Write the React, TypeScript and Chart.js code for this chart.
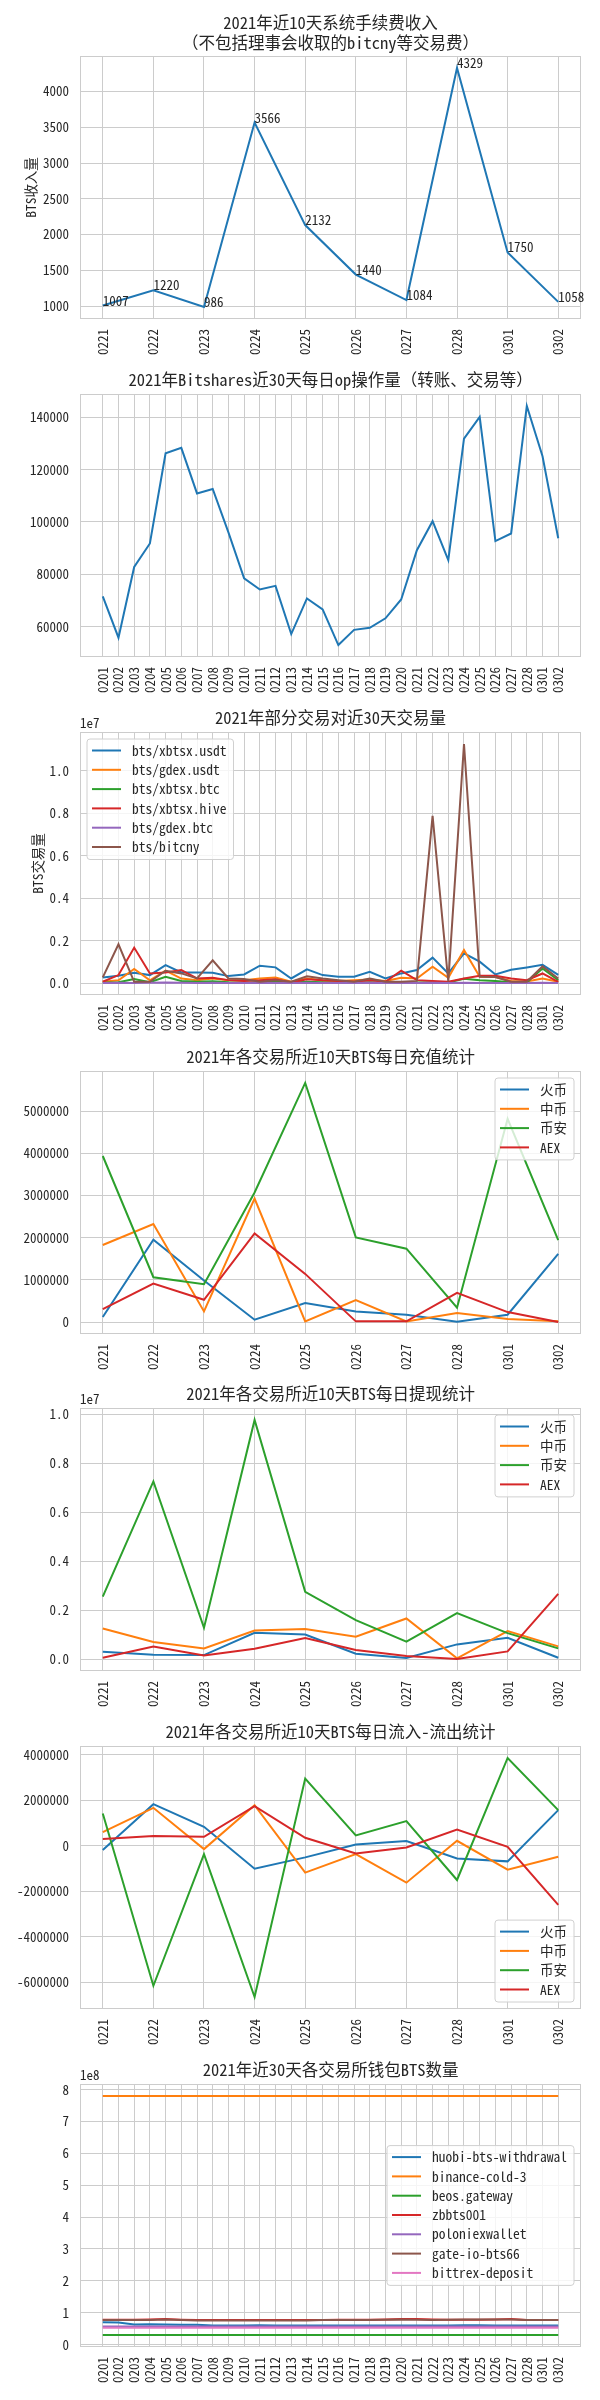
import React, { useEffect, useRef } from "react";
import { Chart, registerables } from "chart.js";

Chart.register(...registerables);

const FONT_FAMILY = "'Noto Sans Mono CJK SC', 'Noto Sans CJK SC', 'DejaVu Sans', sans-serif";
const TEXT_COLOR = "#262626";
const GRID_COLOR = "#cccccc";

const BLUE = "#1f77b4";
const ORANGE = "#ff7f0e";
const GREEN = "#2ca02c";
const RED = "#d62728";
const PURPLE = "#9467bd";
const BROWN = "#8c564b";
const PINK = "#e377c2";

// ---------- categories ----------
const days10 = ["0221", "0222", "0223", "0224", "0225", "0226", "0227", "0228", "0301", "0302"];
const days30 = [
  "0201", "0202", "0203", "0204", "0205", "0206", "0207", "0208", "0209", "0210",
  "0211", "0212", "0213", "0214", "0215", "0216", "0217", "0218", "0219", "0220",
  "0221", "0222", "0223", "0224", "0225", "0226", "0227", "0228", "0301", "0302",
];

// ---------- panel 1: fee income ----------
const feeIncome = [1007, 1220, 986, 3566, 2132, 1440, 1084, 4329, 1750, 1058];
const feeTicks = [1000, 1500, 2000, 2500, 3000, 3500, 4000];
const feeTickLabels = ["1000", "1500", "2000", "2500", "3000", "3500", "4000"];

// ---------- panel 2: daily ops ----------
const dailyOps = [
  71600, 55800, 82800, 91800, 126200, 128300, 110900, 112600, 96000, 78500,
  74200, 75600, 57200, 70800, 66600, 53000, 58800, 59600, 63200, 70400,
  89200, 100300, 85400, 131800, 140100, 92700, 95600, 144300, 125100, 93800,
];
const opsTicks = [60000, 80000, 100000, 120000, 140000];
const opsTickLabels = ["60000", "80000", "100000", "120000", "140000"];

// ---------- panel 3: pair volumes ----------
const volXbtsxUsdt = [
  283000, 362000, 504000, 394000, 866000, 520000, 520000, 504000, 346000, 425000,
  835000, 756000, 236000, 661000, 394000, 315000, 315000, 551000, 236000, 472000,
  630000, 1213000, 472000, 1417000, 1024000, 425000, 640000, 750000, 875000, 400000,
];
const volGdexUsdt = [
  80000, 150000, 680000, 150000, 600000, 230000, 150000, 230000, 150000, 150000,
  230000, 280000, 80000, 230000, 150000, 120000, 150000, 190000, 120000, 268000,
  236000, 787000, 268000, 1575000, 315000, 300000, 120000, 90000, 230000, 80000,
];
const volXbtsxBtc = [
  50000, 60000, 205000, 60000, 315000, 120000, 80000, 110000, 60000, 50000,
  50000, 80000, 40000, 80000, 60000, 50000, 40000, 60000, 40000, 60000,
  50000, 60000, 50000, 220000, 150000, 120000, 60000, 50000, 700000, 150000,
];
const volXbtsxHive = [
  79000, 394000, 1685000, 472000, 520000, 630000, 236000, 268000, 157000, 120000,
  150000, 200000, 50000, 200000, 150000, 120000, 80000, 150000, 80000, 598000,
  157000, 120000, 80000, 236000, 362000, 362000, 230000, 150000, 470000, 80000,
];
const volGdexBtc = [
  20000, 30000, 20000, 30000, 40000, 30000, 20000, 30000, 20000, 20000,
  30000, 20000, 20000, 30000, 20000, 20000, 20000, 30000, 20000, 20000,
  20000, 30000, 20000, 30000, 20000, 20000, 20000, 20000, 30000, 20000,
];
const volBitcny = [
  283000, 1842000, 79000, 80000, 600000, 472000, 236000, 1087000, 236000, 205000,
  80000, 150000, 80000, 340000, 230000, 150000, 80000, 230000, 80000, 80000,
  120000, 7870000, 80000, 11250000, 315000, 300000, 80000, 80000, 800000, 230000,
];
const volTicks = [0, 2000000, 4000000, 6000000, 8000000, 10000000];
const volTickLabels = ["0.0", "0.2", "0.4", "0.6", "0.8", "1.0"];

// ---------- panel 4: deposits ----------
const depositHuobi = [118000, 1953000, 984000, 55000, 449000, 252000, 173000, 5000, 173000, 1614000];
const depositZb = [1827000, 2323000, 252000, 2929000, 16000, 520000, 16000, 213000, 71000, 16000];
const depositBinance = [3937000, 1063000, 898000, 3071000, 5669000, 2008000, 1740000, 339000, 4819000, 1945000];
const depositAex = [307000, 913000, 528000, 2102000, 1142000, 16000, 16000, 693000, 236000, 0];
const depositTicks = [0, 1000000, 2000000, 3000000, 4000000, 5000000];
const depositTickLabels = ["0", "1000000", "2000000", "3000000", "4000000", "5000000"];

// ---------- panel 5: withdrawals ----------
const withdrawHuobi = [299000, 177000, 163000, 1073000, 1005000, 217000, 41000, 598000, 870000, 54000];
const withdrawZb = [1250000, 693000, 435000, 1168000, 1223000, 910000, 1658000, 27000, 1141000, 516000];
const withdrawBinance = [2554000, 7255000, 1277000, 9768000, 2745000, 1590000, 707000, 1875000, 1060000, 435000];
const withdrawAex = [54000, 516000, 149000, 421000, 856000, 367000, 122000, 0, 312000, 2663000];
const withdrawTicks = [0, 2000000, 4000000, 6000000, 8000000, 10000000];
const withdrawTickLabels = ["0.0", "0.2", "0.4", "0.6", "0.8", "1.0"];

// ---------- panel 6: net flow ----------
const netHuobi = [-190000, 1825000, 832000, -1007000, -511000, 58000, 204000, -555000, -686000, 1562000];
const netZb = [598000, 1664000, -146000, 1781000, -1182000, -365000, -1620000, 219000, -1051000, -482000];
const netBinance = [1416000, -6146000, -365000, -6642000, 2949000, 453000, 1080000, -1504000, 3854000, 1562000];
const netAex = [292000, 423000, 394000, 1737000, 350000, -336000, -73000, 715000, -44000, -2599000];
const netTicks = [-6000000, -4000000, -2000000, 0, 2000000, 4000000];
const netTickLabels = ["-6000000", "-4000000", "-2000000", "0", "2000000", "4000000"];

// ---------- panel 7: wallet balances ----------
const walletHuobi = [
  70000000, 69000000, 63000000, 64000000, 63000000, 62000000, 62000000, 60000000, 60000000, 60000000,
  61000000, 60000000, 60000000, 60000000, 60000000, 60000000, 60000000, 60000000, 60000000, 60000000,
  60000000, 60000000, 60000000, 61000000, 61000000, 60000000, 60000000, 60000000, 60000000, 60000000,
];
const walletBinanceCold = [
  780000000, 780000000, 780000000, 780000000, 780000000, 780000000, 780000000, 780000000, 780000000, 780000000,
  780000000, 780000000, 780000000, 780000000, 780000000, 780000000, 780000000, 780000000, 780000000, 780000000,
  780000000, 780000000, 780000000, 780000000, 780000000, 780000000, 780000000, 780000000, 780000000, 780000000,
];
const walletBeos = [
  30000000, 30000000, 30000000, 30000000, 30000000, 30000000, 30000000, 30000000, 30000000, 30000000,
  30000000, 30000000, 30000000, 30000000, 30000000, 30000000, 30000000, 30000000, 30000000, 30000000,
  30000000, 30000000, 30000000, 30000000, 30000000, 30000000, 30000000, 30000000, 30000000, 30000000,
];
const walletZb = [
  78000000, 78000000, 78000000, 79000000, 80000000, 78000000, 77000000, 77000000, 77000000, 77000000,
  77000000, 77000000, 77000000, 77000000, 77000000, 78000000, 78000000, 78000000, 79000000, 80000000,
  80000000, 79000000, 78000000, 78000000, 78000000, 79000000, 80000000, 77000000, 77000000, 77000000,
];
const walletPoloniex = [
  57000000, 57000000, 57000000, 57000000, 57000000, 57000000, 57000000, 57000000, 57000000, 57000000,
  57000000, 57000000, 57000000, 57000000, 57000000, 57000000, 57000000, 57000000, 57000000, 57000000,
  57000000, 57000000, 57000000, 57000000, 57000000, 57000000, 57000000, 57000000, 57000000, 57000000,
];
const walletGate = [
  77000000, 77000000, 77000000, 77000000, 79000000, 77000000, 76000000, 76000000, 76000000, 76000000,
  76000000, 76000000, 76000000, 76000000, 77000000, 77000000, 77000000, 77000000, 78000000, 79000000,
  78000000, 77000000, 78000000, 79000000, 79000000, 79000000, 79000000, 77000000, 77000000, 77000000,
];
const walletBittrex = [
  53000000, 53000000, 53000000, 53000000, 53000000, 53000000, 53000000, 53000000, 53000000, 53000000,
  53000000, 53000000, 53000000, 53000000, 53000000, 53000000, 53000000, 53000000, 53000000, 53000000,
  53000000, 53000000, 53000000, 53000000, 53000000, 53000000, 53000000, 53000000, 53000000, 53000000,
];
const walletTicks = [0, 100000000, 200000000, 300000000, 400000000, 500000000, 600000000, 700000000, 800000000];
const walletTickLabels = ["0", "1", "2", "3", "4", "5", "6", "7", "8"];

// ---------- layout ----------
const CANVAS_W = 600;
const CANVAS_H = 392;
const AREA_TOP = 56;
const AREA_H = 263;
const AXIS_W = 80;
const PAD_RIGHT = 19;

type Series = { name: string; values: number[]; color: string };
type LegendLoc = "upper left" | "upper right" | "lower right" | "center right";
type PanelSpec = {
  top: number;
  title: string[];
  labels: string[];
  series: Series[];
  yTicks: number[];
  yTickLabels: string[];
  yLabel?: string;
  yLabelX?: number;
  offsetText?: string;
  legend?: LegendLoc;
  pointLabels?: boolean;
};

const panels: PanelSpec[] = [
  {
    top: 0,
    title: ["2021年近10天系统手续费收入", "（不包括理事会收取的bitcny等交易费）"],
    labels: days10,
    series: [{ name: "fee", values: feeIncome, color: BLUE }],
    yTicks: feeTicks,
    yTickLabels: feeTickLabels,
    yLabel: "BTS收入量",
    yLabelX: 31,
    pointLabels: true,
  },
  {
    top: 338,
    title: ["2021年Bitshares近30天每日op操作量（转账、交易等）"],
    labels: days30,
    series: [{ name: "ops", values: dailyOps, color: BLUE }],
    yTicks: opsTicks,
    yTickLabels: opsTickLabels,
  },
  {
    top: 676,
    title: ["2021年部分交易对近30天交易量"],
    labels: days30,
    series: [
      { name: "bts/xbtsx.usdt", values: volXbtsxUsdt, color: BLUE },
      { name: "bts/gdex.usdt", values: volGdexUsdt, color: ORANGE },
      { name: "bts/xbtsx.btc", values: volXbtsxBtc, color: GREEN },
      { name: "bts/xbtsx.hive", values: volXbtsxHive, color: RED },
      { name: "bts/gdex.btc", values: volGdexBtc, color: PURPLE },
      { name: "bts/bitcny", values: volBitcny, color: BROWN },
    ],
    yTicks: volTicks,
    yTickLabels: volTickLabels,
    yLabel: "BTS交易量",
    yLabelX: 38,
    offsetText: "1e7",
    legend: "upper left",
  },
  {
    top: 1015,
    title: ["2021年各交易所近10天BTS每日充值统计"],
    labels: days10,
    series: [
      { name: "火币", values: depositHuobi, color: BLUE },
      { name: "中币", values: depositZb, color: ORANGE },
      { name: "币安", values: depositBinance, color: GREEN },
      { name: "AEX", values: depositAex, color: RED },
    ],
    yTicks: depositTicks,
    yTickLabels: depositTickLabels,
    legend: "upper right",
  },
  {
    top: 1352,
    title: ["2021年各交易所近10天BTS每日提现统计"],
    labels: days10,
    series: [
      { name: "火币", values: withdrawHuobi, color: BLUE },
      { name: "中币", values: withdrawZb, color: ORANGE },
      { name: "币安", values: withdrawBinance, color: GREEN },
      { name: "AEX", values: withdrawAex, color: RED },
    ],
    yTicks: withdrawTicks,
    yTickLabels: withdrawTickLabels,
    offsetText: "1e7",
    legend: "upper right",
  },
  {
    top: 1690,
    title: ["2021年各交易所近10天BTS每日流入-流出统计"],
    labels: days10,
    series: [
      { name: "火币", values: netHuobi, color: BLUE },
      { name: "中币", values: netZb, color: ORANGE },
      { name: "币安", values: netBinance, color: GREEN },
      { name: "AEX", values: netAex, color: RED },
    ],
    yTicks: netTicks,
    yTickLabels: netTickLabels,
    legend: "lower right",
  },
  {
    top: 2028,
    title: ["2021年近30天各交易所钱包BTS数量"],
    labels: days30,
    series: [
      { name: "huobi-bts-withdrawal", values: walletHuobi, color: BLUE },
      { name: "binance-cold-3", values: walletBinanceCold, color: ORANGE },
      { name: "beos.gateway", values: walletBeos, color: GREEN },
      { name: "zbbts001", values: walletZb, color: RED },
      { name: "poloniexwallet", values: walletPoloniex, color: PURPLE },
      { name: "gate-io-bts66", values: walletGate, color: BROWN },
      { name: "bittrex-deposit", values: walletBittrex, color: PINK },
    ],
    yTicks: walletTicks,
    yTickLabels: walletTickLabels,
    offsetText: "1e8",
    legend: "center right",
  },
];

function font(size: number) {
  return `${size}px ${FONT_FAMILY}`;
}

function drawLegend(ctx: CanvasRenderingContext2D, area: any, items: Series[], loc: LegendLoc) {
  ctx.save();
  ctx.font = font(13.5);
  const textW = Math.max(...items.map((it) => ctx.measureText(it.name).width));
  const spacing = 19.3;
  const w = textW + 52;
  const h = (items.length - 1) * spacing + 24;
  const pad = 7;
  let x = area.left + pad;
  let y = area.top + pad;
  if (loc === "upper right") {
    x = area.right - pad - w;
  } else if (loc === "lower right") {
    x = area.right - pad - w;
    y = area.bottom - pad - h;
  } else if (loc === "center right") {
    x = area.right - pad - w;
    y = (area.top + area.bottom) / 2 - h / 2;
  }
  const r = 3;
  ctx.beginPath();
  ctx.moveTo(x + r, y);
  ctx.lineTo(x + w - r, y);
  ctx.quadraticCurveTo(x + w, y, x + w, y + r);
  ctx.lineTo(x + w, y + h - r);
  ctx.quadraticCurveTo(x + w, y + h, x + w - r, y + h);
  ctx.lineTo(x + r, y + h);
  ctx.quadraticCurveTo(x, y + h, x, y + h - r);
  ctx.lineTo(x, y + r);
  ctx.quadraticCurveTo(x, y, x + r, y);
  ctx.closePath();
  ctx.fillStyle = "rgba(255,255,255,0.8)";
  ctx.fill();
  ctx.strokeStyle = "#d0d0d0";
  ctx.lineWidth = 1;
  ctx.stroke();
  items.forEach((it, i) => {
    const cy = y + 11.5 + i * spacing;
    ctx.strokeStyle = it.color;
    ctx.lineWidth = 2;
    ctx.beginPath();
    ctx.moveTo(x + 5, cy);
    ctx.lineTo(x + 34, cy);
    ctx.stroke();
    ctx.fillStyle = TEXT_COLOR;
    ctx.textAlign = "left";
    ctx.textBaseline = "middle";
    ctx.fillText(it.name, x + 45, cy);
  });
  ctx.restore();
}

function makePlugin(p: PanelSpec) {
  return {
    id: "decor",
    beforeDatasetsDraw(chart: any) {
      const { ctx, chartArea: a } = chart;
      ctx.save();
      ctx.strokeStyle = GRID_COLOR;
      ctx.lineWidth = 1;
      ctx.strokeRect(a.left + 0.5, a.top + 0.5, a.right - a.left - 1, a.bottom - a.top - 1);
      ctx.restore();
    },
    afterDatasetsDraw(chart: any) {
      if (!p.pointLabels) return;
      const { ctx } = chart;
      const xs = chart.scales.x;
      const ys = chart.scales.y;
      ctx.save();
      ctx.font = font(13);
      ctx.fillStyle = TEXT_COLOR;
      ctx.textAlign = "left";
      ctx.textBaseline = "alphabetic";
      p.series[0].values.forEach((v, i) => {
        ctx.fillText(String(v), xs.getPixelForValue(i), ys.getPixelForValue(v));
      });
      ctx.restore();
    },
    afterDraw(chart: any) {
      const { ctx, chartArea: a } = chart;
      ctx.save();
      ctx.fillStyle = TEXT_COLOR;
      ctx.font = font(16.5);
      ctx.textAlign = "center";
      ctx.textBaseline = "middle";
      const cx = (a.left + a.right) / 2;
      if (p.title.length === 2) {
        ctx.fillText(p.title[0], cx, 23);
        ctx.fillText(p.title[1], cx, 43);
      } else {
        ctx.fillText(p.title[0], cx, 42);
      }
      if (p.offsetText) {
        ctx.font = font(13);
        ctx.textAlign = "left";
        ctx.fillText(p.offsetText, a.left, 47);
      }
      if (p.yLabel) {
        ctx.font = font(13.5);
        ctx.translate(p.yLabelX || 31, (a.top + a.bottom) / 2);
        ctx.rotate(-Math.PI / 2);
        ctx.textAlign = "center";
        ctx.textBaseline = "middle";
        ctx.fillText(p.yLabel, 0, 0);
      }
      ctx.restore();
      if (p.legend) drawLegend(ctx, a, p.series, p.legend);
    },
  };
}

function Panel({ spec }: { spec: PanelSpec }) {
  const ref = useRef<HTMLCanvasElement | null>(null);
  useEffect(() => {
    if (!ref.current) return;
    const all = spec.series.flatMap((s) => s.values);
    const dMin = Math.min(...all);
    const dMax = Math.max(...all);
    const m = (dMax - dMin) * 0.05;
    const n = spec.labels.length;
    const xm = (n - 1) * 0.05;
    const chart = new Chart(ref.current, {
      type: "line",
      data: {
        datasets: spec.series.map((s, i) => ({
          label: s.name,
          data: s.values.map((v, k) => ({ x: k, y: v })),
          borderColor: s.color,
          backgroundColor: s.color,
          borderWidth: 2,
          pointRadius: 0,
          pointHoverRadius: 0,
          fill: false,
          tension: 0,
          order: spec.series.length - i,
        })),
      },
      options: {
        responsive: false,
        animation: false,
        devicePixelRatio: 1,
        layout: { padding: { left: 0, right: PAD_RIGHT, top: AREA_TOP, bottom: 0 } },
        plugins: {
          legend: { display: false },
          title: { display: false },
          tooltip: { enabled: false },
        },
        events: [],
        scales: {
          x: {
            type: "linear",
            min: -xm,
            max: n - 1 + xm,
            afterBuildTicks: (s: any) => {
              s.ticks = spec.labels.map((_, i) => ({ value: i }));
            },
            afterFit: (s: any) => {
              s.height = CANVAS_H - AREA_TOP - AREA_H;
            },
            ticks: {
              autoSkip: false,
              minRotation: 90,
              maxRotation: 90,
              padding: 10,
              color: TEXT_COLOR,
              font: { family: FONT_FAMILY, size: 13 },
              callback: (v: any) => spec.labels[v as number] ?? "",
            },
            grid: { color: GRID_COLOR, lineWidth: 1, drawTicks: false },
            border: { display: false },
          },
          y: {
            type: "linear",
            min: dMin - m,
            max: dMax + m,
            afterBuildTicks: (s: any) => {
              s.ticks = spec.yTicks.map((v) => ({ value: v }));
            },
            afterFit: (s: any) => {
              s.width = AXIS_W;
            },
            ticks: {
              padding: 11,
              color: TEXT_COLOR,
              font: { family: FONT_FAMILY, size: 13 },
              callback: (v: any) => {
                const k = spec.yTicks.indexOf(v as number);
                return k >= 0 ? spec.yTickLabels[k] : "";
              },
            },
            grid: { color: GRID_COLOR, lineWidth: 1, drawTicks: false },
            border: { display: false },
          },
        },
      } as any,
      plugins: [makePlugin(spec)],
    });
    return () => chart.destroy();
  }, [spec]);
  return (
    <canvas
      ref={ref}
      width={CANVAS_W}
      height={CANVAS_H}
      style={{ position: "absolute", left: 0, top: spec.top, width: CANVAS_W, height: CANVAS_H }}
    />
  );
}

export default function App() {
  return (
    <div
      style={{
        position: "absolute",
        left: 0,
        top: 0,
        width: 600,
        height: 2400,
        background: "#ffffff",
        overflow: "hidden",
      }}
    >
      {panels.map((p, i) => (
        <Panel key={i} spec={p} />
      ))}
    </div>
  );
}
